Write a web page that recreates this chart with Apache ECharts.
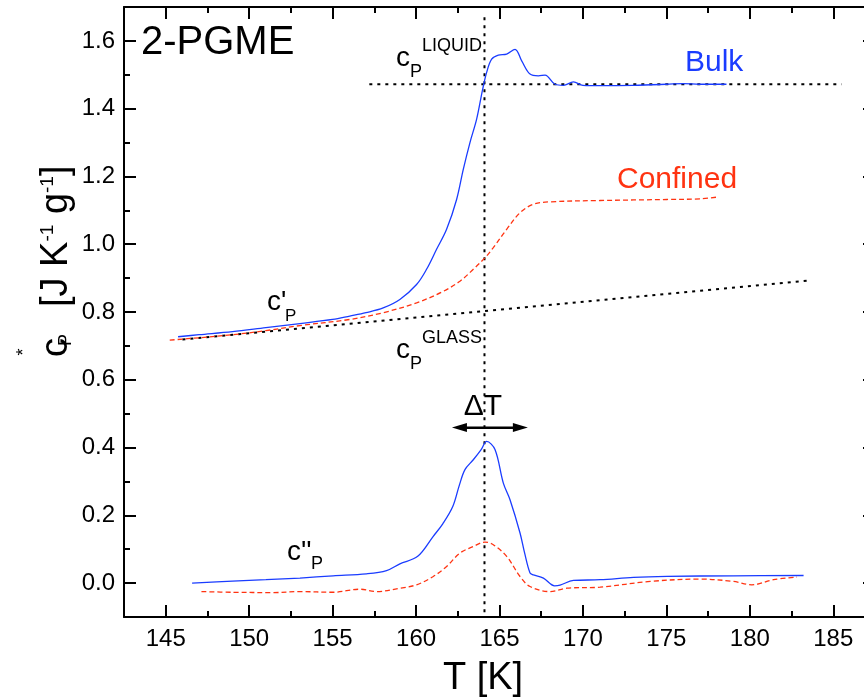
<!DOCTYPE html>
<html><head><meta charset="utf-8">
<script src="https://cdn.jsdelivr.net/npm/echarts@6/dist/echarts.min.js"></script>
<style>html,body{margin:0;padding:0;background:#fff}#c{width:864px;height:699px}</style>
</head><body><div id="c"></div>
<script>
// ---- tick values ----
const xMajorTicks = [145,150,155,160,165,170,175,180,185];
const xMinorTicks = [147.5,152.5,157.5,162.5,167.5,172.5,177.5,182.5];
const yMajorTicks = [0.0,0.2,0.4,0.6,0.8,1.0,1.2,1.4,1.6];
const yMinorTicks = [0.1,0.3,0.5,0.7,0.9,1.1,1.3,1.5];

// ---- data [T (K), value] ----
const bulkReal = [[145.74,0.727],[147,0.733],[149,0.742],[151,0.754],[153.04,0.766],[155,0.778],[156.03,0.788],[157,0.798],[158.03,0.812],[159.03,0.837],[160.03,0.881],[160.63,0.926],[161.23,0.985],[161.83,1.044],[162.43,1.132],[162.83,1.221],[163.23,1.30],[163.63,1.369],[163.99,1.457],[164.23,1.507],[164.53,1.546],[164.93,1.558],[165.43,1.561],[165.93,1.575],[166.33,1.541],[166.83,1.502],[167.33,1.497],[167.73,1.499],[168.33,1.472],[168.83,1.469],[169.43,1.479],[170.0,1.469],[171,1.468],[173,1.469],[175,1.472],[176,1.474],[177,1.472],[178.6,1.472]];
const confReal = [[145.24,0.717],[147,0.724],[149,0.733],[151,0.745],[153.04,0.760],[156.03,0.778],[158.03,0.798],[160.03,0.827],[161.63,0.861],[162.63,0.891],[163.43,0.926],[164.13,0.960],[164.63,0.99],[165.43,1.044],[166.23,1.093],[167.03,1.118],[168.03,1.125],[171.03,1.129],[175.03,1.132],[177.03,1.134],[178.03,1.139]];
const bulkImag = [[146.58,0.0],[149,0.006],[151,0.010],[153.04,0.015],[155.03,0.0216],[157.03,0.0275],[158.23,0.037],[159.03,0.057],[160.1,0.079],[161.03,0.138],[161.6,0.175],[162.2,0.226],[162.6,0.29],[162.93,0.335],[163.43,0.364],[163.9,0.394],[164.23,0.418],[164.73,0.394],[165.23,0.295],[165.63,0.246],[166.23,0.148],[166.5,0.09],[166.83,0.03],[167.03,0.0245],[167.63,0.0148],[168.3,-0.008],[168.63,-0.006],[169.43,0.008],[171.03,0.01],[173.03,0.017],[175.03,0.02],[179.02,0.0216],[183.22,0.0225]];
const confImag = [[147.14,-0.025],[149,-0.027],[151.43,-0.028],[153.04,-0.025],[155.03,-0.027],[156.63,-0.018],[157.63,-0.025],[159.03,-0.015],[160.03,-0.005],[161.03,0.0195],[161.83,0.049],[162.63,0.0886],[163.43,0.108],[164.13,0.121],[164.63,0.113],[165.43,0.079],[166.23,0.0195],[166.83,-0.01],[168.03,-0.025],[169.03,-0.015],[171.03,-0.012],[174.03,0.005],[177.03,0.012],[179.02,0.005],[180.12,-0.005],[181.42,0.01],[182.82,0.018]];
// reference lines
const liquidLine = [[157.2,1.472],[185.5,1.472]];
const glassLine = [[146,0.719],[183.5,0.893]];
const tgLine = [[164.1,1.67],[164.1,-0.1]];
const deltaTArrow = [[162.6,0.459],[166.25,0.459]];

const FONT = 'Liberation Sans, Arial, Helvetica, sans-serif';
const BLUE = '#1a3cff';
const RED = '#ff3311';
const XMIN = 142.5, XMAX = 187.5, YMIN = -0.1, YMAX = 1.7;

function xAx(pos, major) {
  return {
    type: 'value', position: pos, min: XMIN, max: XMAX,
    axisLine: { show: major, onZero: false, lineStyle: { color: '#000', width: 2 } },
    axisTick: { show: true, inside: true, length: major ? 12 : 6, customValues: major ? xMajorTicks : xMinorTicks, lineStyle: { color: '#000', width: 2 } },
    axisLabel: { show: major && pos === 'bottom', customValues: xMajorTicks, margin: 10, fontSize: 24, color: '#000', fontFamily: FONT, formatter: v => String(v) },
    splitLine: { show: false }
  };
}
function yAx(pos, major) {
  return {
    type: 'value', position: pos, min: YMIN, max: YMAX,
    axisLine: { show: major, onZero: false, lineStyle: { color: '#000', width: 2 } },
    axisTick: { show: true, inside: true, length: major ? 12 : 6, customValues: major ? yMajorTicks : yMinorTicks, lineStyle: { color: '#000', width: 2 } },
    axisLabel: { show: major && pos === 'left', customValues: yMajorTicks, margin: 9, fontSize: 24, color: '#000', fontFamily: FONT, formatter: v => v.toFixed(1) },
    splitLine: { show: false }
  };
}

const chart = echarts.init(document.getElementById('c'), null, { renderer: 'canvas' });
const dotted = { color: '#000', width: 2, type: [3, 5] };
const txt = (t, x, y, fs, opts) => Object.assign({ type: 'text', x: x, y: y, z: 100, style: Object.assign({ text: t, fontSize: fs, fontFamily: FONT, fill: '#000', align: 'left', verticalAlign: 'middle' }, opts || {}) });
const curve = (data, color, dash) => ({ type: 'line', data: data, showSymbol: false, smooth: 0.35,
  lineStyle: { color: color, width: 1.3, type: dash ? [5, 3] : 'solid' }, z: dash ? 3 : 5 });

chart.setOption({
  animation: false,
  backgroundColor: '#fff',
  grid: { left: 124, right: -11, top: 7, bottom: 82, containLabel: false, outerBoundsMode: 'none' },
  xAxis: [xAx('bottom', true), xAx('bottom', false), xAx('top', true), xAx('top', false)],
  yAxis: [yAx('left', true), yAx('left', false), yAx('right', true), yAx('right', false)],
  series: [
    { type: 'line', data: glassLine, showSymbol: false, lineStyle: dotted, z: 2 },
    { type: 'line', data: liquidLine, showSymbol: false, lineStyle: dotted, z: 2 },
    { type: 'line', data: tgLine, showSymbol: false, lineStyle: dotted, z: 2 },
    { type: 'line', data: deltaTArrow, showSymbol: false, lineStyle: { color: '#000', width: 2 }, z: 4,
      markLine: { silent: true, symbol: ['triangle', 'triangle'], symbolSize: [9, 15], label: { show: false },
        lineStyle: { color: '#000', width: 2, type: 'solid' },
        data: [[{ coord: deltaTArrow[0] }, { coord: deltaTArrow[1] }]] } },
    curve(confReal, RED, true),
    curve(confImag, RED, true),
    curve(bulkReal, BLUE, false),
    curve(bulkImag, BLUE, false)
  ],
  graphic: [
    txt('2-PGME', 141, 43, 40),
    txt('c', 396, 58, 28),
    txt('P', 410, 72, 18),
    txt('LIQUID', 422, 46.5, 18),
    txt('Bulk', 685, 62.6, 30, { fill: BLUE }),
    txt('Confined', 617, 179.6, 30, { fill: RED }),
    txt("c'", 267, 302, 28),
    txt('P', 285, 316, 17),
    txt('c', 396, 350, 28),
    txt('P', 410, 364, 18),
    txt('GLASS', 422, 338.3, 18),
    txt("c''", 287, 552, 28),
    txt('P', 311, 564, 18),
    txt('ΔT', 483, 406.6, 30, { align: 'center' }),
    txt('T [K]', 483, 679, 38, { align: 'center' }),
    // rotated y-axis title
    Object.assign(txt('[J K{s|-1} g{s|-1}]', 57, 307, 38, { rich: { s: { fontSize: 19, fontFamily: FONT, verticalAlign: 'top' } } }), { rotation: Math.PI / 2 }),
    Object.assign(txt('c', 57, 357, 38), { rotation: Math.PI / 2 }),
    Object.assign(txt('P', 66, 346, 18), { rotation: Math.PI / 2 }),
    Object.assign(txt('*', 24, 352, 18, { align: 'center' }), { rotation: Math.PI / 2 })
  ]
});
</script></body></html>
